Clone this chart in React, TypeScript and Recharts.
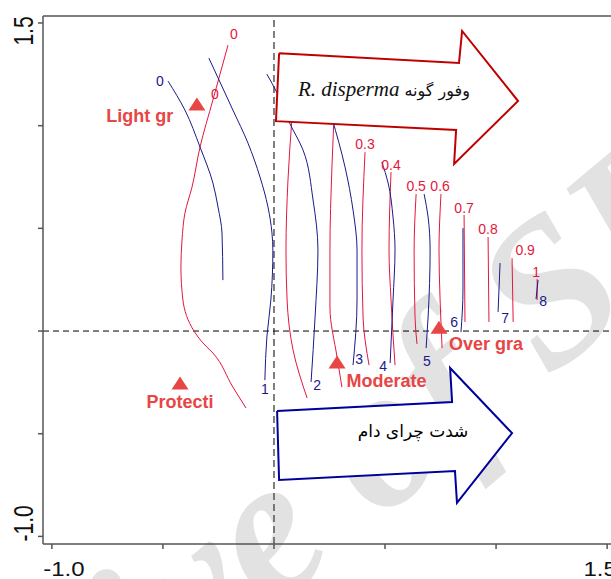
import React from 'react';
import { ScatterChart, Scatter, XAxis, YAxis, ReferenceLine } from 'recharts';

// axis ranges of the ordination plot
const X_DOMAIN = [-1.04, 1.54];
const Y_DOMAIN = [-1.037, 1.534];
const AXIS_TICKS = [-1, -0.5, 0, 0.5, 1, 1.5];

// red isolines: abundance of R. disperma
const red0 = [[-0.207, 1.392], [-0.275, 1.125], [-0.333, 0.896], [-0.369, 0.701], [-0.401, 0.574], [-0.414, 0.443], [-0.419, 0.312], [-0.41, 0.151], [-0.36, 0.0], [-0.32, -0.058], [-0.275, -0.107], [-0.185, -0.273], [-0.126, -0.375]];
const red01 = [[0.081, 1.037], [0.063, 0.735], [0.054, 0.394], [0.059, 0.151], [0.086, -0.093], [0.149, -0.326]];
const red02 = [[0.27, 1.037], [0.261, 0.798], [0.252, 0.394], [0.252, 0.117], [0.284, -0.127], [0.306, -0.273]];
const red03 = [[0.41, 0.871], [0.396, 0.394], [0.401, 0.068], [0.428, -0.166]];
const red04 = [[0.527, 0.774], [0.518, 0.394], [0.527, 0.151], [0.545, -0.166]];
const red05 = [[0.64, 0.667], [0.631, 0.394], [0.635, 0.068], [0.644, -0.063]];
const red06 = [[0.752, 0.667], [0.743, 0.394], [0.748, 0.151], [0.757, -0.083]];
const red07 = [[0.856, 0.565], [0.86, 0.044]];
const red08 = [[0.964, 0.458], [0.968, 0.044]];
const red09 = [[1.072, 0.355], [1.077, 0.044]];
const red10 = [[1.185, 0.253], [1.185, 0.151]];

// blue isolines: grazing intensity
const blue0 = [[-0.477, 1.217], [-0.401, 1.076], [-0.333, 0.896], [-0.275, 0.721], [-0.252, 0.604], [-0.234, 0.477], [-0.23, 0.248]];
const blue1 = [[-0.293, 1.329], [-0.185, 1.076], [-0.117, 0.915], [-0.063, 0.75], [-0.027, 0.604], [-0.009, 0.477], [-0.005, 0.394], [-0.014, 0.151], [-0.032, -0.029], [-0.041, -0.239]];
const blue2 = [[-0.032, 1.251], [0.014, 1.159], [0.068, 1.018], [0.131, 0.881], [0.176, 0.638], [0.198, 0.394], [0.185, 0.068], [0.167, -0.248]];
const blue3 = [[0.261, 1.037], [0.32, 0.798], [0.356, 0.589], [0.374, 0.394], [0.374, 0.151], [0.356, -0.166]];
const blue4 = [[0.486, 0.823], [0.514, 0.721], [0.536, 0.555], [0.545, 0.394], [0.536, 0.151], [0.523, -0.156]];
const blue5 = [[0.676, 0.667], [0.694, 0.555], [0.703, 0.394], [0.694, 0.068], [0.685, -0.083]];
const blue6 = [[0.851, 0.501], [0.851, 0.2], [0.842, -0.005]];
const blue7 = [[1.018, 0.331], [1.009, 0.093]];
const blue8 = [[1.189, 0.248], [1.18, 0.156]];

const redLabels = [
  { t: '0', x: -0.18, y: 1.422 },
  { t: '0', x: -0.266, y: 1.129 },
  { t: '0.3', x: 0.41, y: 0.886 },
  { t: '0.4', x: 0.527, y: 0.784 },
  { t: '0.5', x: 0.64, y: 0.682 },
  { t: '0.6', x: 0.748, y: 0.682 },
  { t: '0.7', x: 0.856, y: 0.574 },
  { t: '0.8', x: 0.964, y: 0.472 },
  { t: '0.9', x: 1.131, y: 0.37 },
  { t: '1', x: 1.18, y: 0.263 },
];
const blueLabels = [
  { t: '0', x: -0.514, y: 1.193 },
  { t: '1', x: -0.041, y: -0.307 },
  { t: '2', x: 0.194, y: -0.287 },
  { t: '3', x: 0.383, y: -0.161 },
  { t: '4', x: 0.491, y: -0.195 },
  { t: '5', x: 0.689, y: -0.17 },
  { t: '6', x: 0.811, y: 0.019 },
  { t: '7', x: 1.041, y: 0.039 },
  { t: '8', x: 1.212, y: 0.122 },
];

// grazing treatments (centroids)
const treatmentMarks = [
  { x: -0.347, y: 1.105 },
  { x: -0.423, y: -0.253 },
  { x: 0.284, y: -0.151 },
  { x: 0.743, y: 0.019 },
];
const treatmentNames = [
  { t: 'Light gr', x: -0.604, y: 1.018 },
  { t: 'Protecti', x: -0.423, y: -0.375 },
  { t: 'Moderate', x: 0.507, y: -0.273 },
  { t: 'Over gra', x: 0.955, y: -0.093 },
];

// gradient arrows
const abundanceArrow = [[0.023, 1.353], [0.833, 1.305], [0.847, 1.461], [1.099, 1.12], [0.811, 0.813], [0.82, 0.979], [0.009, 1.022], [0.023, 1.353]];
const grazingArrow = [[0.014, -0.389], [0.802, -0.346], [0.793, -0.18], [1.072, -0.497], [0.824, -0.837], [0.815, -0.682], [0.023, -0.725], [0.014, -0.389]];
const abundanceText = [{ x: 0.495, y: 1.144 }];
const grazingText = [{ x: 0.626, y: -0.516 }];

const RED = '#e3173e';
const BLUE = '#1a1a8a';
const MARK = '#e84545';
const SANS = 'Liberation Sans, Arial, sans-serif';

const toPts = (arr: number[][]) => arr.map(([x, y]) => ({ x, y }));

const redLines = [red0, red01, red02, red03, red04, red05, red06, red07, red08, red09, red10];
const blueLines = [blue0, blue1, blue2, blue3, blue4, blue5, blue6, blue7, blue8];

const Nothing = () => <g />;

const makeLabel = (color: string) => (props: any) => (
  <text x={props.cx} y={props.cy} textAnchor="middle" fontFamily={SANS} fontSize={14} fill={color}>
    {props.payload.t}
  </text>
);
const RedLabel = makeLabel(RED);
const BlueLabel = makeLabel(BLUE);

const NameLabel = (props: any) => (
  <text x={props.cx} y={props.cy} textAnchor="middle" fontFamily={SANS} fontSize={18} fontWeight="bold" fill={MARK}>
    {props.payload.t}
  </text>
);

const Triangle = (props: any) => {
  const { cx, cy } = props;
  return <polygon points={`${cx},${cy - 6.5} ${cx + 8.5},${cy + 6.5} ${cx - 8.5},${cy + 6.5}`} fill={MARK} />;
};

const AbundanceLabel = (props: any) => (
  <text x={props.cx} y={props.cy} textAnchor="middle" fontFamily="Liberation Serif, DejaVu Sans, serif" fill="#111">
    <tspan fontStyle="italic" fontSize={21}>R. disperma</tspan>
    <tspan fontSize={16} fontFamily="DejaVu Sans, serif"> وفور گونه</tspan>
  </text>
);

const GrazingLabel = (props: any) => (
  <text x={props.cx} y={props.cy} textAnchor="middle" fontFamily="DejaVu Sans, serif" fontSize={17} fill="#000">
    شدت چرای دام
  </text>
);

const XTick = (props: any) => {
  const { x, payload } = props;
  const v = payload.value;
  if (v !== -1 && v !== 1.5) return <g />;
  const cx = v === -1 ? x + 12 : x - 7;
  return (
    <text transform={`translate(${cx},576) scale(1.2,1)`} textAnchor="middle" fontFamily={SANS} fontSize={20} fill="#111">
      {v === -1 ? '-1.0' : '1.5'}
    </text>
  );
};

const YTick = (props: any) => {
  const { y, payload } = props;
  const v = payload.value;
  if (v !== -1 && v !== 1.5) return <g />;
  const cy = v === -1 ? y - 13 : y + 8;
  return (
    <text transform={`translate(23,${cy}) rotate(-90) scale(1,1.3)`} textAnchor="middle" dominantBaseline="central" fontFamily={SANS} fontSize={21} fill="#111">
      {v === -1 ? '-1.0' : '1.5'}
    </text>
  );
};

// faint diagonal watermark behind the plot
const Watermark = () => (
  <svg width={611} height={579} style={{ position: 'absolute', left: 0, top: 0 }}>
    <g transform="translate(270,613) rotate(-40)" fontFamily="Liberation Serif, serif" fontStyle="italic" fontWeight="bold" fontSize={205} fill="#e2e2e2">
      <text x={0} y={0} textAnchor="end">Archiv</text>
      <text x={0} y={0} textAnchor="start">e of SID</text>
    </g>
  </svg>
);

export default function App() {
  return (
    <div style={{ position: 'absolute', left: 0, top: 0, width: 611, height: 579, overflow: 'hidden', background: '#fff' }}>
      <Watermark />
      <div style={{ position: 'absolute', left: 0, top: 0 }}>
        <ScatterChart width={620} height={579} margin={{ top: 16, right: 4, left: 0, bottom: 0 }}>
          <XAxis type="number" dataKey="x" domain={X_DOMAIN} ticks={AXIS_TICKS} interval={0} allowDataOverflow
            height={35} tickSize={5} stroke="#555" strokeWidth={1.5} tick={<XTick />} />
          <YAxis type="number" dataKey="y" domain={Y_DOMAIN} ticks={AXIS_TICKS} interval={0} allowDataOverflow
            width={43} tickSize={5} stroke="#555" strokeWidth={1.5} tick={<YTick />} />
          <ReferenceLine y={Y_DOMAIN[1]} stroke="#555" strokeWidth={1.5} />
          <ReferenceLine x={0} stroke="#555" strokeWidth={1.5} strokeDasharray="7 4" />
          <ReferenceLine y={0} stroke="#000" strokeWidth={1} strokeDasharray="6 4" />

          {redLines.map((l, i) => (
            <Scatter key={'r' + i} data={toPts(l)} isAnimationActive={false} shape={Nothing}
              line={{ stroke: RED, strokeWidth: 1 }} lineJointType="monotoneY" />
          ))}
          {blueLines.map((l, i) => (
            <Scatter key={'b' + i} data={toPts(l)} isAnimationActive={false} shape={Nothing}
              line={{ stroke: BLUE, strokeWidth: 1 }} lineJointType="monotoneY" />
          ))}

          <Scatter data={toPts(abundanceArrow)} isAnimationActive={false} shape={Nothing}
            line={{ stroke: '#c00000', strokeWidth: 2, fill: '#fff' }} lineJointType="linear" />
          <Scatter data={toPts(grazingArrow)} isAnimationActive={false} shape={Nothing}
            line={{ stroke: '#00009a', strokeWidth: 2, fill: '#fff' }} lineJointType="linear" />
          <Scatter data={abundanceText} isAnimationActive={false} shape={AbundanceLabel} />
          <Scatter data={grazingText} isAnimationActive={false} shape={GrazingLabel} />

          <Scatter data={redLabels} isAnimationActive={false} shape={RedLabel} />
          <Scatter data={blueLabels} isAnimationActive={false} shape={BlueLabel} />
          <Scatter data={treatmentMarks} isAnimationActive={false} shape={Triangle} />
          <Scatter data={treatmentNames} isAnimationActive={false} shape={NameLabel} />
        </ScatterChart>
      </div>
    </div>
  );
}
